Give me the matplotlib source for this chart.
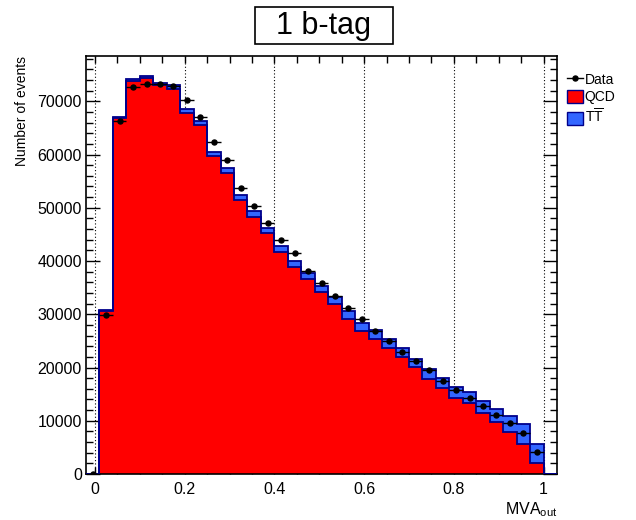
#!/usr/bin/env python3
"""Stacked MVA output histogram (QCD + TT) with data points, 1 b-tag category."""

import numpy as np
import matplotlib

matplotlib.use("Agg")
import matplotlib.pyplot as plt
from matplotlib.patches import Patch, Rectangle
from matplotlib.lines import Line2D
from matplotlib.ticker import MultipleLocator

plt.rcParams["font.family"] = ["Liberation Sans", "DejaVu Sans"]
plt.rcParams["mathtext.fontset"] = "custom"
plt.rcParams["mathtext.rm"] = "Liberation Sans"
plt.rcParams["mathtext.it"] = "Liberation Sans:italic"

# histogram binning: 35 bins of width 0.03 from -0.02 to 1.03
bin_edges = np.round(np.arange(35 + 1) * 0.03 - 0.02, 3)

qcd = [0, 30550, 66800, 73800, 74400, 73100, 72370, 67870, 65550, 59670,
       56610, 51550, 48290, 45170, 41720, 38790, 36540, 34100, 31900, 29090,
       26900, 25400, 23650, 21960, 20020, 17830, 16140, 14200, 13260, 11390,
       9700, 7820, 5630, 2120, 0]
tt = [0, 230, 250, 450, 350, 330, 630, 750, 820, 880,
      910, 900, 1030, 960, 1120, 1120, 1160, 1240, 1380, 1500,
      1500, 1570, 1630, 1630, 1620, 1900, 1940, 2070, 2130, 2310,
      2560, 3000, 3690, 3450, 0]
data = [0, 29780, 66300, 72680, 73240, 73180, 72870, 70230, 67050, 62270,
        58920, 53730, 50420, 47130, 43910, 41410, 38090, 35780, 33400, 31150,
        29150, 26900, 24900, 22890, 21260, 19550, 17450, 15760, 14200, 12760,
        11070, 9510, 7750, 4180, np.nan]

RED = "#ff0000"
BLUE = "#3366ff"
NAVY = "#00008b"

qcd = np.array(qcd, dtype=float)
tt = np.array(tt, dtype=float)
data = np.array(data, dtype=float)
total = qcd + tt
centers = 0.5 * (bin_edges[:-1] + bin_edges[1:])
half_width = 0.5 * np.diff(bin_edges)

fig = plt.figure(figsize=(6.36, 5.20), dpi=100)
ax = fig.add_axes([86 / 636, 1 - 474 / 520, (557 - 86) / 636, (474 - 56) / 520])

for x in [0.0, 0.2, 0.4, 0.6, 0.8, 1.0]:
    ax.axvline(x, color="black", linestyle=(0, (1, 2)), linewidth=0.8, zorder=0)

ax.stairs(total, bin_edges, fill=True, color=BLUE, zorder=1)
ax.stairs(qcd, bin_edges, fill=True, color=RED, zorder=2)
ax.stairs(total, bin_edges, color=NAVY, linewidth=1.3, zorder=3)
ax.stairs(qcd, bin_edges, color=NAVY, linewidth=1.3, zorder=3)

ax.errorbar(centers, data, xerr=half_width, fmt="o", ms=3.6, color="black",
            elinewidth=1.0, capsize=0, zorder=4)

ax.set_xlim(bin_edges[0], bin_edges[-1])
ax.set_ylim(0, 78500)

ax.xaxis.set_major_locator(MultipleLocator(0.2))
ax.xaxis.set_minor_locator(MultipleLocator(0.05))
ax.yaxis.set_major_locator(MultipleLocator(10000))
ax.yaxis.set_minor_locator(MultipleLocator(2000))
ax.xaxis.set_major_formatter(plt.FuncFormatter(lambda v, p: f"{v:g}"))

ax.tick_params(axis="both", which="both", direction="in", top=True, right=True,
               labelsize=11.5, width=1.0)
ax.tick_params(axis="x", which="both", length=5, pad=6)
ax.tick_params(axis="y", which="major", length=10, pad=3)
ax.tick_params(axis="y", which="minor", length=5)
for spine in ax.spines.values():
    spine.set_linewidth(1.2)

ax.set_ylabel("Number of events", fontsize=10, loc="top", labelpad=6)
ax.set_xlabel(r"MVA$_{\mathrm{out}}$", fontsize=11.5, loc="right", labelpad=2)

# title pave
fig.add_artist(Rectangle((255 / 636, 1 - 44 / 520), 138 / 636, 37 / 520,
                         transform=fig.transFigure, facecolor="white",
                         edgecolor="black", linewidth=1.2))
fig.text(324 / 636, 1 - 26 / 520, "1 b-tag", ha="center", va="center", fontsize=22)

handles = [
    Line2D([0], [0], color="black", marker="o", ms=3.6, lw=1.0),
    Patch(facecolor=RED, edgecolor=NAVY, linewidth=1.0),
    Patch(facecolor=BLUE, edgecolor=NAVY, linewidth=1.0),
]
labels = ["Data", "QCD", r"T$\overline{\mathrm{T}}$"]
fig.legend(handles, labels, loc="upper left", bbox_to_anchor=(0.891, 0.86),
           frameon=False, fontsize=10, handlelength=1.15, handleheight=1.0,
           handletextpad=0.15, labelspacing=0.25, borderpad=0, borderaxespad=0)

fig.savefig("out.png", dpi=100)
